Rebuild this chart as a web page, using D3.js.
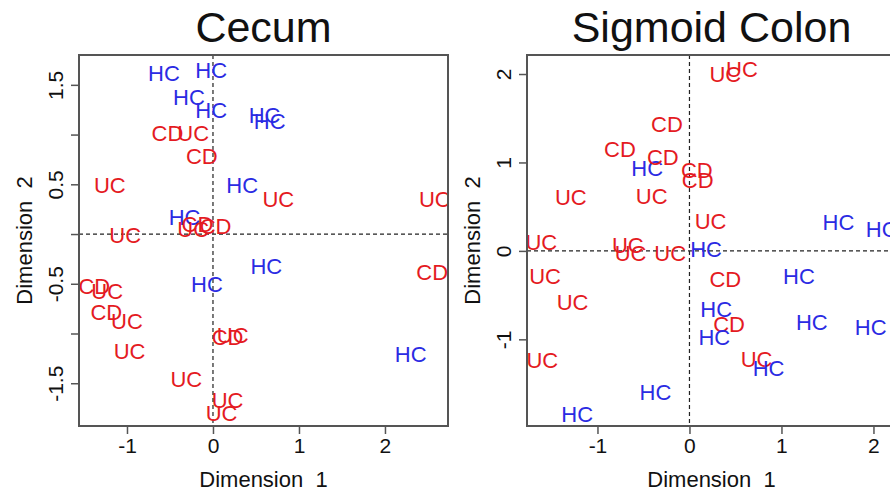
<!DOCTYPE html>
<html>
<head>
<meta charset="utf-8">
<script src="https://cdn.jsdelivr.net/npm/d3@7"></script>
<style>
body { margin: 0; background: #fff; }
svg { font-family: "Liberation Sans", Arial, sans-serif; }
</style>
</head>
<body>
<svg id="canvas" width="890" height="495"></svg>
<script>
// Cecum
let cecumLabels = ["HC","HC","HC","HC","HC","HC","CD","UC","CD","HC","UC","UC","UC",
                   "HC","CD","UC","CD","UC","HC","CD","HC","CD","UC","CD","UC","UC","UC",
                   "CD","UC","UC","UC","HC"]
let cecumX = [-0.57,-0.02,-0.28,-0.02,0.60,0.66,-0.53,-0.23,-0.13,0.34,0.76,2.58,-1.20,
              -0.33,-0.18,-0.23,0.03,-1.02,0.62,2.55,-0.07,-1.38,-1.23,-1.24,-1.00,-0.97,-0.31,
              0.17,0.23,0.17,0.10,2.30]
let cecumY = [1.62,1.65,1.38,1.25,1.20,1.14,1.02,1.02,0.78,0.49,0.35,0.35,0.49,
              0.17,0.10,0.05,0.08,-0.01,-0.32,-0.38,-0.50,-0.52,-0.57,-0.78,-0.88,-1.18,-1.46,
              -1.04,-1.02,-1.67,-1.80,-1.21]

// Sigmoid Colon
let sigmoidLabels = ["UC","UC","CD","CD","HC","CD","CD","CD","UC","HC","HC","UC","UC",
                     "UC","UC","UC","UC","HC","UC","UC","UC","HC","HC","CD","HC","HC",
                     "CD","HC","HC","HC","UC","HC"]
let sigmoidX = [0.39,0.57,-0.245,-0.755,-0.46,-0.29,0.08,0.09,0.23,1.62,2.09,-1.29,-0.41,
                -1.61,-0.67,-0.64,-0.21,0.18,-1.57,-1.27,-1.60,-1.22,-0.37,0.39,1.19,0.29,
                0.43,0.27,1.33,1.97,0.73,0.86]
let sigmoidY = [2.00,2.06,1.43,1.15,0.94,1.06,0.91,0.80,0.34,0.33,0.25,0.61,0.62,
                0.10,0.07,-0.03,-0.02,0.02,-0.29,-0.58,-1.23,-1.84,-1.60,-0.32,-0.29,-0.66,
                -0.83,-0.98,-0.81,-0.86,-1.22,-1.33]

let xTicks = [-1, 0, 1, 2]
let xTickLabels = ["-1", "0", "1", "2"]
let cecumYTicks = [-1.5, -1, -0.5, 0, 0.5, 1, 1.5]
let cecumYTickLabels = ["-1.5", "", "-0.5", "", "0.5", "", "1.5"]
let sigmoidYTicks = [-1, 0, 1, 2]
let sigmoidYTickLabels = ["-1", "0", "1", "2"]

let groupColor = { HC: "#2b2be3", UC: "#e41a22", CD: "#e41a22" }

let canvas = d3.select("#canvas")

let drawPanel = (p) => {
    let xScale = d3.scaleLinear().domain(p.xDomain).range([p.left, p.right])
    let yScale = d3.scaleLinear().domain(p.yDomain).range([p.bottom, p.top])

    let g = canvas.append("g")

    g.append("clipPath").attr("id", p.id + "-clip")
        .append("rect")
        .attr("x", p.left).attr("y", p.top)
        .attr("width", p.right - p.left).attr("height", p.bottom - p.top)

    // dashed zero lines
    g.append("line")
        .attr("x1", p.left).attr("x2", p.right)
        .attr("y1", yScale(0)).attr("y2", yScale(0))
        .attr("stroke", "#222").attr("stroke-width", 1.2)
        .attr("stroke-dasharray", "4,3")
    g.append("line")
        .attr("x1", xScale(0)).attr("x2", xScale(0))
        .attr("y1", p.top).attr("y2", p.bottom)
        .attr("stroke", "#222").attr("stroke-width", 1.2)
        .attr("stroke-dasharray", "4,3")

    // point labels
    g.append("g")
        .attr("clip-path", "url(#" + p.id + "-clip)")
        .selectAll("text")
        .data(p.labels)
        .enter()
        .append("text")
        .attr("x", (d, i) => xScale(p.xs[i]))
        .attr("y", (d, i) => yScale(p.ys[i]))
        .attr("dy", "0.36em")
        .attr("text-anchor", "middle")
        .attr("font-size", 22)
        .attr("fill", d => groupColor[d])
        .text(d => d)

    // axes
    let xAxis = d3.axisBottom(xScale)
        .tickValues(p.xTicks)
        .tickFormat((d, i) => p.xTickLabels[i])
        .tickSize(8).tickPadding(4)
    let yAxis = d3.axisLeft(yScale)
        .tickValues(p.yTicks)
        .tickFormat((d, i) => p.yTickLabels[i])
        .tickSize(8).tickPadding(4)

    let xa = g.append("g")
        .attr("transform", "translate(0," + p.bottom + ")")
        .call(xAxis)
    xa.select(".domain").remove()
    xa.selectAll("line").attr("stroke", "#555").attr("stroke-width", 1.5)
    xa.selectAll("text").attr("font-size", 21).attr("fill", "#111")
        .attr("font-family", "Liberation Sans, Arial, sans-serif")

    let ya = g.append("g")
        .attr("transform", "translate(" + p.left + ",0)")
        .call(yAxis)
    ya.select(".domain").remove()
    ya.selectAll("line").attr("stroke", "#555").attr("stroke-width", 1.5)
    ya.selectAll("text")
        .attr("font-size", 21).attr("fill", "#111")
        .attr("font-family", "Liberation Sans, Arial, sans-serif")
        .attr("text-anchor", "middle")
        .attr("x", 0).attr("y", 0).attr("dy", "0.36em")
        .attr("transform", "translate(-24,0) rotate(-90)")

    // frame
    g.append("rect")
        .attr("x", p.left).attr("y", p.top)
        .attr("width", p.right - p.left).attr("height", p.bottom - p.top)
        .attr("fill", "none").attr("stroke", "#555").attr("stroke-width", 2)

    // titles
    g.append("text")
        .attr("x", (p.left + p.right) / 2).attr("y", 42)
        .attr("text-anchor", "middle")
        .attr("font-size", 43)
        .attr("fill", "#111")
        .text(p.title)
    g.append("text")
        .attr("x", (p.left + p.right) / 2).attr("y", 487)
        .attr("text-anchor", "middle")
        .attr("font-size", 22)
        .attr("fill", "#111")
        .attr("xml:space", "preserve")
        .text("Dimension  1")
    g.append("text")
        .attr("transform", "translate(" + (p.left - 47) + "," + ((p.top + p.bottom) / 2) + ") rotate(-90)")
        .attr("text-anchor", "middle")
        .attr("font-size", 22)
        .attr("fill", "#111")
        .attr("xml:space", "preserve")
        .text("Dimension  2")
}

drawPanel({
    id: "cecum", title: "Cecum",
    left: 79, right: 448, top: 55, bottom: 426,
    xDomain: [-1.558, 2.733], yDomain: [-1.93, 1.80],
    labels: cecumLabels, xs: cecumX, ys: cecumY,
    xTicks: xTicks, xTickLabels: xTickLabels,
    yTicks: cecumYTicks, yTickLabels: cecumYTickLabels
})

drawPanel({
    id: "sigmoid", title: "Sigmoid Colon",
    left: 527, right: 896, top: 55, bottom: 426,
    xDomain: [-1.766, 2.245], yDomain: [-1.98, 2.215],
    labels: sigmoidLabels, xs: sigmoidX, ys: sigmoidY,
    xTicks: xTicks, xTickLabels: xTickLabels,
    yTicks: sigmoidYTicks, yTickLabels: sigmoidYTickLabels
})
</script>
</body>
</html>
